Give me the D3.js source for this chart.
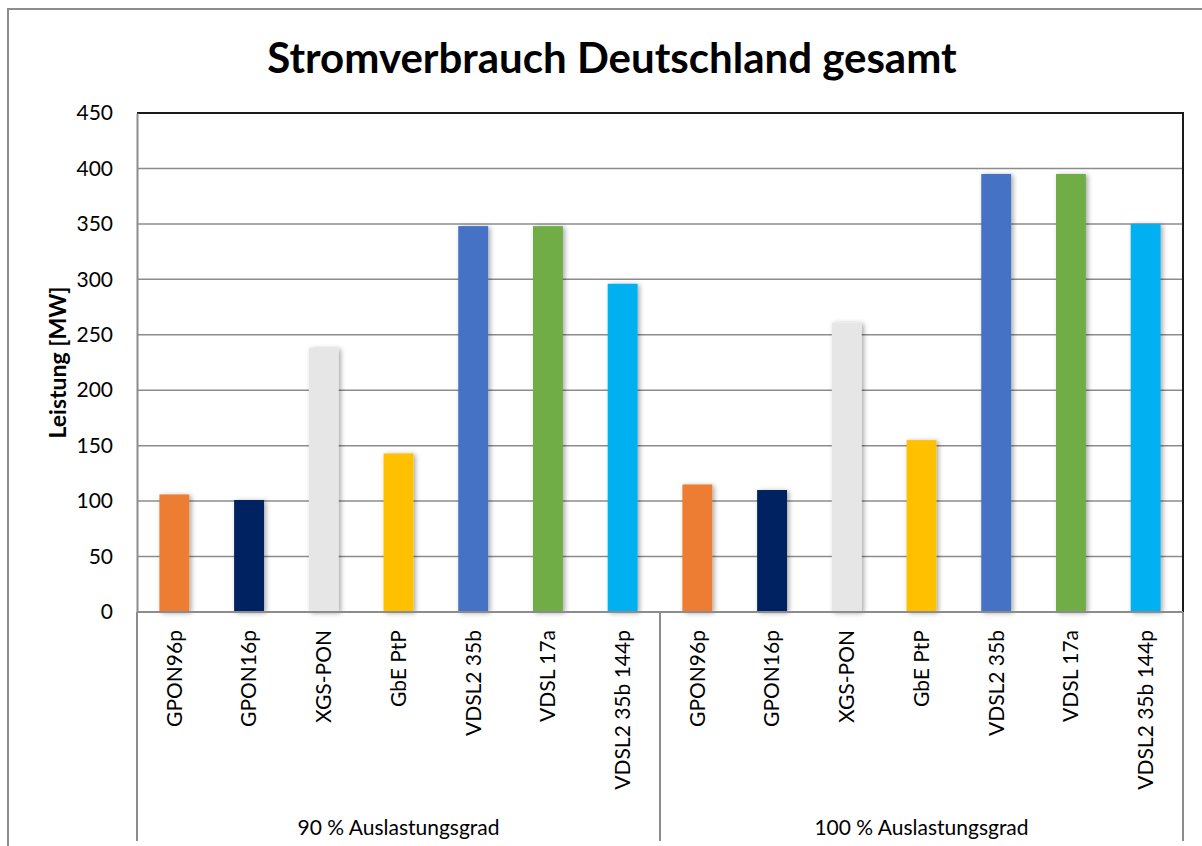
<!DOCTYPE html>
<html>
<head>
<meta charset="utf-8">
<script src="https://cdn.jsdelivr.net/npm/d3@7"></script>
<style>
  body { margin: 0; background: #fff; }
  svg { display: block; font-family: Lato, "Open Sans", sans-serif; }
</style>
</head>
<body>
<svg id="chart" width="1202" height="846"></svg>
<script>
const groups = ['90 % Auslastungsgrad', '100 % Auslastungsgrad'];
const techs = ['GPON96p', 'GPON16p', 'XGS-PON', 'GbE PtP', 'VDSL2 35b', 'VDSL 17a', 'VDSL2 35b 144p'];
const techColors = ['#ED7D31', '#002060', '#E7E6E6', '#FFC000', '#4472C4', '#70AD47', '#00B0F0'];
const values90 = [106, 101, 238, 143, 348, 348, 296];
const values100 = [115, 110, 261, 155, 395, 395, 350];
const yTicks = [0, 50, 100, 150, 200, 250, 300, 350, 400, 450];

const svg = d3.select('#chart');

// flat list of bars
const bars = [];
[values90, values100].forEach((vals, g) => {
  vals.forEach((v, i) => bars.push({ key: g + '-' + i, group: g, tech: techs[i], color: techColors[i], value: v }));
});

const plotLeft = 137, plotRight = 1183, plotTop = 113, plotBottom = 612;

const x = d3.scaleBand()
  .domain(bars.map(d => d.key))
  .range([plotLeft, plotRight])
  .paddingInner(0.6)
  .paddingOuter(0.3);

const xGroup = d3.scaleBand().domain(groups).range([plotLeft, plotRight]);

const y = d3.scaleLinear().domain([0, 450]).range([plotBottom, plotTop]);

// shadow filter
const defs = svg.append('defs');
const f = defs.append('filter').attr('id', 'shadow')
  .attr('x', '-30%').attr('y', '-10%').attr('width', '170%').attr('height', '130%');
f.append('feDropShadow').attr('dx', 2).attr('dy', 1).attr('stdDeviation', 2.5)
  .attr('flood-color', '#000').attr('flood-opacity', 0.35);

// outer chart border (right side runs off the picture)
svg.append('rect')
  .attr('x', 8).attr('y', 9).attr('width', 1220).attr('height', 860)
  .attr('fill', 'none').attr('stroke', '#8c8c8c').attr('stroke-width', 2);

// title
svg.append('text')
  .attr('x', 612).attr('y', 73)
  .attr('text-anchor', 'middle')
  .attr('font-weight', 'bold')
  .attr('font-size', 42)
  .attr('fill', '#000')
  .text('Stromverbrauch Deutschland gesamt');

// gridlines
svg.append('g')
  .selectAll('line')
  .data(yTicks.filter(t => t > 0 && t < 450))
  .join('line')
  .attr('x1', plotLeft).attr('x2', plotRight)
  .attr('y1', d => y(d)).attr('y2', d => y(d))
  .attr('stroke', '#8c8c8c').attr('stroke-width', 1.5);

// plot frame: top and right dark
svg.append('path')
  .attr('d', `M${plotLeft},${plotTop}H${plotRight}V${plotBottom}`)
  .attr('fill', 'none').attr('stroke', '#1a1a1a').attr('stroke-width', 2);

// y axis
const yAxis = svg.append('g')
  .attr('transform', `translate(${plotLeft},0)`)
  .call(d3.axisLeft(y).tickValues(yTicks).tickSize(0).tickPadding(24));
yAxis.select('.domain').attr('stroke', '#8c8c8c').attr('stroke-width', 2);
yAxis.selectAll('text')
  .attr('font-family', 'Lato, sans-serif')
  .attr('font-size', 21)
  .attr('fill', '#000');

// y axis title
svg.append('text')
  .attr('transform', `translate(66,${(plotTop + plotBottom) / 2}) rotate(-90)`)
  .attr('text-anchor', 'middle')
  .attr('font-weight', 'bold')
  .attr('font-size', 23)
  .text('Leistung [MW]');

// bars
svg.append('g')
  .selectAll('rect')
  .data(bars)
  .join('rect')
  .attr('x', d => x(d.key))
  .attr('width', x.bandwidth())
  .attr('y', d => y(d.value))
  .attr('height', d => y(0) - y(d.value))
  .attr('fill', d => d.color)
  .attr('filter', 'url(#shadow)');

// x axis baseline
svg.append('line')
  .attr('x1', plotLeft).attr('x2', plotRight)
  .attr('y1', plotBottom).attr('y2', plotBottom)
  .attr('stroke', '#8c8c8c').attr('stroke-width', 2);

// group separators
const sepX = groups.map(g => xGroup(g)).concat([plotRight]);
svg.append('g')
  .selectAll('line')
  .data(sepX)
  .join('line')
  .attr('x1', d => d).attr('x2', d => d)
  .attr('y1', plotBottom).attr('y2', 841)
  .attr('stroke', '#8c8c8c').attr('stroke-width', 2);

// category labels
svg.append('g')
  .selectAll('text')
  .data(bars)
  .join('text')
  .attr('transform', d => `translate(${x(d.key) + x.bandwidth() / 2},630) rotate(-90)`)
  .attr('text-anchor', 'end')
  .attr('dy', '0.35em')
  .attr('font-size', 21)
  .text(d => d.tech);

// group labels
svg.append('g')
  .selectAll('text')
  .data(groups)
  .join('text')
  .attr('x', d => xGroup(d) + xGroup.bandwidth() / 2)
  .attr('y', 835)
  .attr('text-anchor', 'middle')
  .attr('font-size', 21)
  .text(d => d);
</script>
</body>
</html>
